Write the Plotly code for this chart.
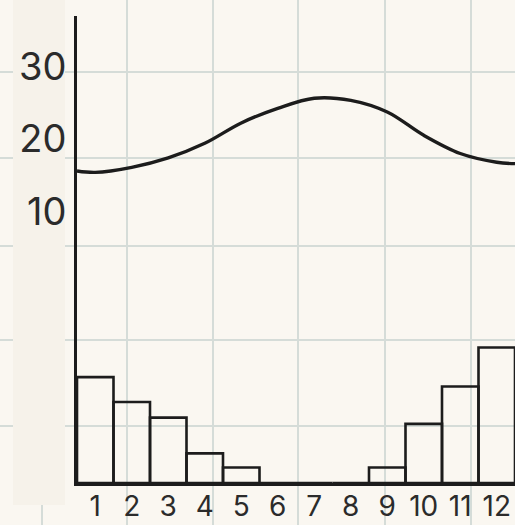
import plotly.graph_objects as go

# ---- data ----
months = [1, 2, 3, 4, 5, 6, 7, 8, 9, 10, 11, 12]
month_labels = ["1", "2", "3", "4", "5", "6", "7", "8", "9", "10", "11", "12"]
precip_mm = [68, 52, 42, 19, 10, 0, 0, 0, 10, 38, 62, 87]
# temperature curve, including the values at the left / right edges of the chart
temp_x = [0.5, 1, 2, 3, 4, 5, 6, 7, 8, 9, 10, 11, 12, 12.5]
temp_c = [15.6, 15.4, 16.1, 17.4, 19.4, 22.2, 24.2, 25.6, 25.3, 23.7, 20.5, 18.0, 16.8, 16.6]
temp_ticks = [10, 20, 30]

# ---- styling ----
W, H = 515, 525
BG = "#faf7f1"
STRIP = "#f6f2ea"
GRID = "#d5dcd8"
INK = "#1c1c1c"
TXT = "#2b2b2b"
FONT = "Inter, Liberation Sans, Arial, sans-serif"

# graph-paper grid (pixel-like coordinates of a helper axis pair)
grid_x = [42, 127, 213, 298, 385, 471]
grid_y = [72, 158, 246, 340, 426]

fig = go.Figure()

# helper trace so the graph-paper subplot is drawn
fig.add_trace(go.Scatter(x=[], y=[], xaxis="x", yaxis="y", showlegend=False,
                         hoverinfo="skip"))

fig.add_trace(go.Bar(
    x=months, y=precip_mm, xaxis="x2", yaxis="y3", width=1,
    marker=dict(color="rgba(0,0,0,0)", line=dict(color=INK, width=2.6)),
    showlegend=False,
))

fig.add_trace(go.Scatter(
    x=temp_x, y=temp_c, xaxis="x2", yaxis="y2", mode="lines",
    line=dict(color=INK, width=3.4, shape="spline", smoothing=1.0),
    showlegend=False,
))

fig.update_layout(
    width=W, height=H,
    margin=dict(l=0, r=0, t=0, b=0),
    paper_bgcolor=BG, plot_bgcolor="rgba(0,0,0,0)",
    font=dict(family=FONT, color=TXT),
    showlegend=False,
    xaxis=dict(domain=[0, 1], anchor="y", range=[0, W], tickvals=grid_x,
               showgrid=True, gridcolor=GRID, gridwidth=2, showticklabels=False,
               ticks="", zeroline=False, showline=False, fixedrange=True),
    yaxis=dict(domain=[0, 1], anchor="x", range=[H, 0], tickvals=grid_y,
               showgrid=True, gridcolor=GRID, gridwidth=2, showticklabels=False,
               ticks="", zeroline=False, showline=False, fixedrange=True),
    xaxis2=dict(domain=[77 / W, 1], anchor="y2", range=[0.5, 12.5],
                tickvals=months, ticktext=month_labels, showgrid=False,
                showline=True, linecolor=INK, linewidth=3, ticks="",
                tickfont=dict(size=28, color=TXT, family=FONT),
                ticklabelstandoff=-4, zeroline=False, automargin=False),
    yaxis2=dict(domain=[(H - 483) / H, (H - 16) / H], anchor="x2",
                range=[-27.3, 36.9], tickvals=temp_ticks,
                showgrid=False, showline=True, linecolor=INK, linewidth=3,
                ticks="", tickfont=dict(size=38, color=TXT, family=FONT),
                ticklabelstandoff=0, zeroline=False, automargin=False),
    yaxis3=dict(overlaying="y2", anchor="x2", range=[0, 300], visible=False),
    shapes=[dict(type="rect", xref="x", yref="y", x0=13, x1=65, y0=0, y1=505,
                 fillcolor=STRIP, line=dict(width=0), layer="between")],
)

fig.write_html("out.html",
               config={"displayModeBar": False, "staticPlot": True},
               post_script="document.body.style.margin='0';"
                           "document.body.style.overflow='hidden';")
